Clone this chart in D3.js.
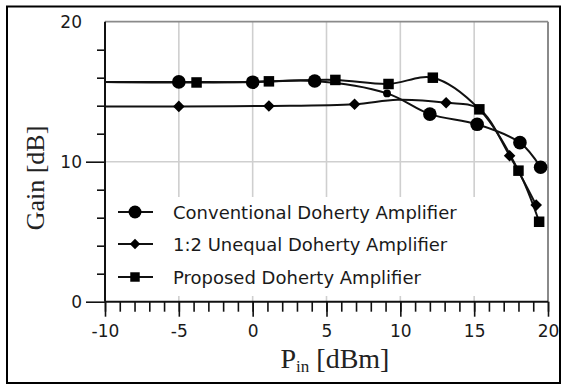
<!DOCTYPE html>
<html>
<head>
<meta charset="utf-8">
<script src="https://cdn.jsdelivr.net/npm/d3@7"></script>
<style>
html,body{margin:0;padding:0;background:#fff;}
svg{display:block;}
</style>
</head>
<body>
<svg id="chart" width="567" height="385"></svg>
<script>
// ---- data ----
const xTicksMajor = [-10, -5, 0, 5, 10, 15, 20];
const yTicksMajor = [0, 10, 20];
const seriesNames = ["Conventional Doherty Amplifier", "1:2 Unequal Doherty Amplifier", "Proposed Doherty Amplifier"];

const pinConv  = [-10, -5, 0, 4.2, 9.1, 12.0, 15.2, 18.1, 19.5];
const gainConv = [15.7, 15.7, 15.68, 15.76, 14.88, 13.4, 12.67, 11.36, 9.6];
const markConv = [0, 1, 1, 1, 1, 1, 1, 1, 1];

const pinUneq  = [-10, -5, 1.1, 6.9, 9.8, 13.1, 15.3, 17.4, 19.2];
const gainUneq = [13.95, 13.95, 13.98, 14.1, 14.42, 14.21, 13.8, 10.43, 6.9];
const markUneq = [0, 1, 1, 1, 0, 1, 0, 1, 1];

const pinProp  = [-10, -3.8, 1.1, 5.6, 9.2, 12.2, 15.35, 18.0, 19.4];
const gainProp = [15.7, 15.66, 15.74, 15.84, 15.55, 16.0, 13.74, 9.36, 5.71];
const markProp = [0, 1, 1, 1, 1, 1, 1, 1, 1];

// ---- layout ----
const svg = d3.select("#chart");
const L = 105, R = 548, T = 21.7, B = 301.7;
const x = d3.scaleLinear().domain([-10, 20]).range([L, R]);
const y = d3.scaleLinear().domain([0, 20]).range([B, T]);
const sans = "'DejaVu Sans', sans-serif";
const serif = "'Liberation Serif', 'Times New Roman', serif";
const fmt = d => String(d);

svg.append("rect").attr("width", 567).attr("height", 385).attr("fill", "#fff");

// gridlines
const grid = svg.append("g");
grid.selectAll("line.v").data([-5, 0, 5, 10, 15]).join("line")
  .attr("x1", d => x(d)).attr("x2", d => x(d)).attr("y1", T).attr("y2", B)
  .attr("stroke", "#cfcfcf").attr("stroke-width", 1.6);
grid.append("line").attr("x1", L).attr("x2", R).attr("y1", y(10)).attr("y2", y(10))
  .attr("stroke", "#cfcfcf").attr("stroke-width", 1.6);
// top & right frame
grid.append("line").attr("x1", L).attr("x2", R).attr("y1", T).attr("y2", T)
  .attr("stroke", "#8a8a8a").attr("stroke-width", 1.8);
grid.append("line").attr("x1", R).attr("x2", R).attr("y1", T).attr("y2", B)
  .attr("stroke", "#8a8a8a").attr("stroke-width", 2);

// legend background
const legend = svg.append("g");
legend.append("rect").attr("x", 107).attr("y", 197).attr("width", 385).attr("height", 99).attr("fill", "#fff");

// series
const series = [
  {name: seriesNames[0], xs: pinConv, ys: gainConv, mk: markConv, shape: "circle"},
  {name: seriesNames[1], xs: pinUneq, ys: gainUneq, mk: markUneq, shape: "diamond"},
  {name: seriesNames[2], xs: pinProp, ys: gainProp, mk: markProp, shape: "square"}
];

const line = d3.line().x(d => x(d[0])).y(d => y(d[1])).curve(d3.curveCatmullRom.alpha(0.5));

function drawMarker(g, shape, cx, cy, scale) {
  scale = scale || 1;
  if (shape === "circle") {
    g.append("circle").attr("cx", cx).attr("cy", cy).attr("r", 6.8 * scale).attr("fill", "#000");
  } else if (shape === "square") {
    const s = 10.5 * scale;
    g.append("rect").attr("x", cx - s / 2).attr("y", cy - s / 2).attr("width", s).attr("height", s).attr("fill", "#000");
  } else {
    const h = 5.8 * scale;
    g.append("path").attr("d", `M${cx},${cy - h}L${cx + h},${cy}L${cx},${cy + h}L${cx - h},${cy}Z`).attr("fill", "#000");
  }
}

const plot = svg.append("g");
series.forEach(s => {
  const pts = s.xs.map((v, i) => [v, s.ys[i]]);
  plot.append("path").attr("d", line(pts)).attr("fill", "none")
    .attr("stroke", "#111").attr("stroke-width", 2);
});
const marks = svg.append("g");
series.forEach((s, si) => {
  s.xs.forEach((v, i) => {
    if (!s.mk[i]) return;
    const small = (si === 0 && i === 4);
    drawMarker(marks, s.shape, x(v), y(s.ys[i]), small ? 0.58 : 1);
  });
});

// legend entries
const rows = [212, 244, 277];
series.forEach((s, i) => {
  legend.append("line").attr("x1", 118).attr("x2", 153).attr("y1", rows[i]).attr("y2", rows[i])
    .attr("stroke", "#111").attr("stroke-width", 2);
  drawMarker(legend, s.shape, 135, rows[i], s.shape === "circle" ? 0.95 : 0.9);
  legend.append("text").attr("x", 173).attr("y", rows[i] + 6.5)
    .attr("font-family", sans).attr("font-size", 18).attr("fill", "#1a1a1a").text(s.name);
});

// x axis
const xMinor = svg.append("g").attr("transform", `translate(0,${B})`)
  .call(d3.axisBottom(x).tickValues(d3.range(-10, 21, 1)).tickSize(10).tickFormat(""));
const xMajor = svg.append("g").attr("transform", `translate(0,${B})`)
  .call(d3.axisBottom(x).tickValues(xTicksMajor).tickSize(15).tickPadding(8).tickFormat(fmt));
[xMinor, xMajor].forEach(g => {
  g.select(".domain").remove();
  g.selectAll(".tick line").attr("stroke", "#111").attr("stroke-width", 1.6);
});
xMajor.selectAll(".tick text").attr("font-family", sans).attr("font-size", 17).attr("fill", "#1a1a1a");

// y axis
const yMinor = svg.append("g").attr("transform", `translate(${L},0)`)
  .call(d3.axisLeft(y).tickValues([2, 4, 6, 8, 12, 14, 16, 18]).tickSize(8).tickFormat(""));
const yMajor = svg.append("g").attr("transform", `translate(${L},0)`)
  .call(d3.axisLeft(y).tickValues(yTicksMajor).tickSize(19).tickPadding(4).tickFormat(fmt));
[yMinor, yMajor].forEach(g => {
  g.select(".domain").remove();
  g.selectAll(".tick line").attr("stroke", "#111").attr("stroke-width", 1.6);
});
yMajor.selectAll(".tick").filter(d => d === 20).select("line").remove();
yMajor.selectAll(".tick text").attr("font-family", sans).attr("font-size", 17).attr("fill", "#1a1a1a");

// axis lines
svg.append("line").attr("x1", L).attr("x2", L).attr("y1", T).attr("y2", B)
  .attr("stroke", "#111").attr("stroke-width", 2);
svg.append("line").attr("x1", L).attr("x2", R).attr("y1", B).attr("y2", B)
  .attr("stroke", "#111").attr("stroke-width", 2);

// axis titles
svg.append("text").attr("transform", "translate(44,178) rotate(-90)")
  .attr("text-anchor", "middle").attr("font-family", serif).attr("font-size", 26).attr("fill", "#222")
  .text("Gain [dB]");
const xt = svg.append("text").attr("x", 335).attr("y", 368)
  .attr("text-anchor", "middle").attr("font-family", serif).attr("font-size", 28).attr("fill", "#222");
xt.append("tspan").text("P");
xt.append("tspan").attr("font-size", 17).attr("dy", 4).text("in");
xt.append("tspan").attr("dy", -4).text(" [dBm]");

// outer frame
svg.append("rect").attr("x", 7).attr("y", 6.5).attr("width", 553).attr("height", 376.5)
  .attr("fill", "none").attr("stroke", "#000").attr("stroke-width", 2);
</script>
</body>
</html>
